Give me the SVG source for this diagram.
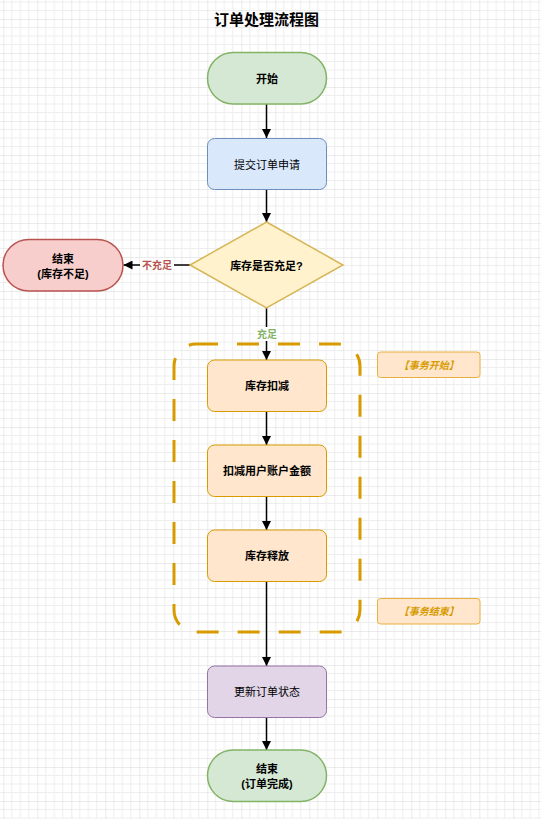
<svg xmlns="http://www.w3.org/2000/svg" width="541" height="819" viewBox="0 0 541 819">
<style>
  text { font-family: "Liberation Sans", "Noto Sans CJK SC", sans-serif; text-anchor: middle; dominant-baseline: central; fill: #000; }
  .b { font-weight: bold; font-size: 11px; }
  .r { font-size: 11px; }
  .title { font-weight: bold; font-size: 15px; }
  .green { fill: #d5e8d4; stroke: #82b366; stroke-width: 1.5; }
  .red { fill: #f8cecc; stroke: #b85450; stroke-width: 1.5; }
  .blue { fill: #dae8fc; stroke: #6c8ebf; stroke-width: 1; }
  .yellow { fill: #fff2cc; stroke: #d6b656; stroke-width: 1.5; }
  .orange { fill: #ffe6cc; stroke: #d79b00; stroke-width: 1; }
  .purple { fill: #e1d5e7; stroke: #9673a6; stroke-width: 1; }
  .note { fill: #ffe6cc; stroke: #e8b040; stroke-width: 1; }
  .notetext { font-size: 10px; font-weight: bold; font-style: italic; fill: #d79b00; }
  .edge { stroke: #000; stroke-width: 1.5; fill: none; marker-end: url(#arr); }
  .lbl { font-size: 10px; font-weight: bold; }
</style>
<defs>
  <pattern id="grid" x="3.3" y="19" width="34" height="34" patternUnits="userSpaceOnUse">
    <path d="M8.5 0V34M17 0V34M25.5 0V34M0 8.5H34M0 17H34M0 25.5H34" stroke="#eeeeee" stroke-width="1" fill="none"/>
    <path d="M0 0V34M0 0H34" stroke="#d8d8d8" stroke-width="1" fill="none"/>
  </pattern>
  <marker id="arr" viewBox="0 0 10 10" refX="10" refY="5" markerWidth="6" markerHeight="6" markerUnits="strokeWidth" orient="auto">
    <path d="M0 0L10 5L0 10z" fill="#000"/>
  </marker>
</defs>
<rect width="541" height="819" fill="#ffffff"/>
<rect width="541" height="819" fill="url(#grid)"/>

<text class="title" x="266.5" y="19">订单处理流程图</text>

<g id="transaction-boundary">
  <rect x="174" y="344" width="186" height="288" rx="22" fill="none" stroke="#d79b00" stroke-width="3" stroke-dasharray="22 19"/>
</g>

<g id="connectors">
  <line class="edge" x1="266.5" y1="104" x2="266.5" y2="138"/>
  <line class="edge" x1="266.5" y1="190" x2="266.5" y2="222"/>
  <line class="edge" x1="190" y1="265" x2="123.5" y2="265"/>
  <line class="edge" x1="266.5" y1="308" x2="266.5" y2="360"/>
  <line class="edge" x1="266.5" y1="412" x2="266.5" y2="445"/>
  <line class="edge" x1="266.5" y1="497" x2="266.5" y2="530"/>
  <line class="edge" x1="266.5" y1="582" x2="266.5" y2="666"/>
  <line class="edge" x1="266.5" y1="718" x2="266.5" y2="750"/>
  <rect x="140" y="258" width="34" height="14" fill="#ffffff"/>
  <text class="lbl" x="157" y="265.5" style="fill:#b85450">不充足</text>
  <rect x="254" y="327" width="26" height="14" fill="#ffffff"/>
  <text class="lbl" x="267" y="334.5" style="fill:#82b366">充足</text>
</g>

<g id="start">
  <rect class="green" x="207.5" y="52.5" width="119" height="51.5" rx="25.75"/>
  <text class="b" x="267" y="78.5">开始</text>
</g>
<g id="submit">
  <rect class="blue" x="207.5" y="138.5" width="119" height="51" rx="7"/>
  <text class="r" x="267" y="164.5">提交订单申请</text>
</g>
<g id="check-stock">
  <polygon class="yellow" points="266.5,222 343,265 266.5,308 190,265"/>
  <text class="b" x="266.5" y="265.5">库存是否充足?</text>
</g>
<g id="end-insufficient">
  <rect class="red" x="3" y="239.5" width="120" height="51.5" rx="25.75"/>
  <text class="b" x="63" y="258.5">结束</text>
  <text class="b" x="63" y="273.5">(库存不足)</text>
</g>
<g id="deduct-stock">
  <rect class="orange" x="207.5" y="360" width="119" height="51.5" rx="7"/>
  <text class="b" x="267" y="386">库存扣减</text>
</g>
<g id="deduct-balance">
  <rect class="orange" x="207.5" y="445" width="119" height="51.5" rx="7"/>
  <text class="b" x="267" y="471">扣减用户账户金额</text>
</g>
<g id="release-stock">
  <rect class="orange" x="207.5" y="530" width="119" height="51.5" rx="7"/>
  <text class="b" x="267" y="556">库存释放</text>
</g>
<g id="update-order">
  <rect class="purple" x="207.5" y="666" width="119" height="51.5" rx="7"/>
  <text class="r" x="267" y="692">更新订单状态</text>
</g>
<g id="end-complete">
  <rect class="green" x="207.5" y="750" width="119" height="51.5" rx="25.75"/>
  <text class="b" x="267" y="769">结束</text>
  <text class="b" x="267" y="784">(订单完成)</text>
</g>
<g id="note-begin">
  <rect class="note" x="377.5" y="352" width="102.5" height="25.5" rx="3"/>
  <text class="notetext" x="428.75" y="365">【事务开始】</text>
</g>
<g id="note-end">
  <rect class="note" x="377.5" y="598.5" width="102.5" height="25.5" rx="3"/>
  <text class="notetext" x="428.75" y="611.5">【事务结束】</text>
</g>
</svg>
